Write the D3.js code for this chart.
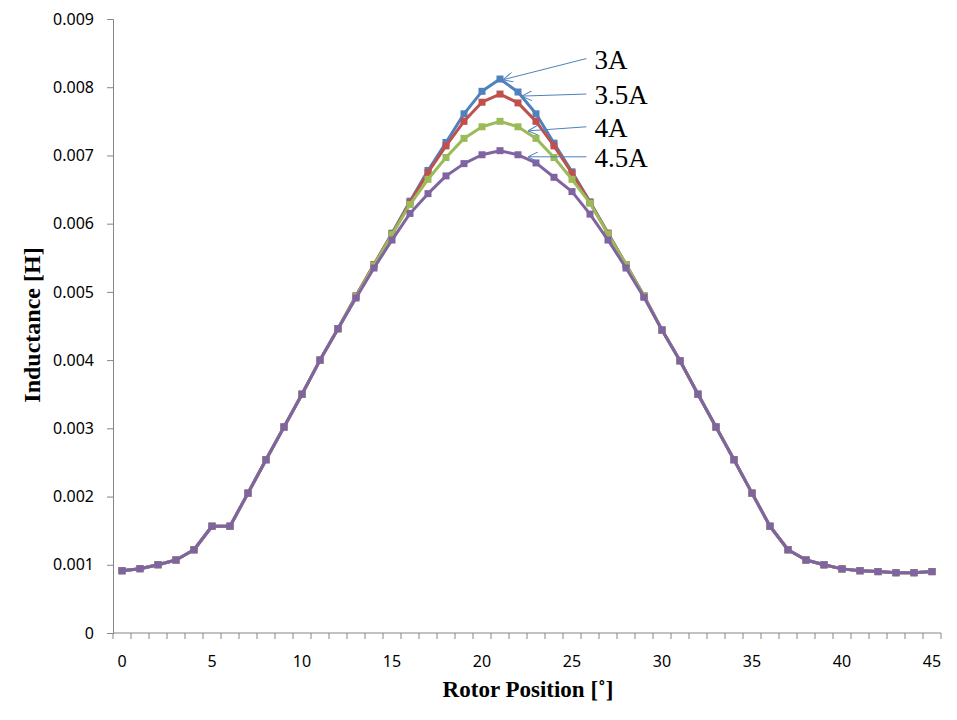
<!DOCTYPE html>
<html>
<head>
<meta charset="utf-8">
<script src="https://cdn.jsdelivr.net/npm/d3@7"></script>
<style>
  html, body { margin: 0; padding: 0; background: #fff; }
  svg { display: block; }
</style>
</head>
<body>
<svg id="chart" width="957" height="720"></svg>
<script>
// ---------- DATA ----------
const positions = d3.range(0, 46); // rotor position, degrees
const seriesNames = ["3A", "3.5A", "4A", "4.5A"];
const yTicks = [0, 0.001, 0.002, 0.003, 0.004, 0.005, 0.006, 0.007, 0.008, 0.009];
const xTickLabels = [0, 5, 10, 15, 20, 25, 30, 35, 40, 45];

const L_3A = [0.000913,0.000943,0.001001,0.00107,0.00122,0.001565,0.001565,0.00205,0.00254,0.00302,
  0.0035,0.004,0.00446,0.00494,0.0054,0.00586,0.00633,0.00678,0.00719,0.00761,
  0.00794,0.00812,0.00793,0.00761,0.00718,0.00676,0.00632,0.00586,0.0054,0.00494,
  0.00444,0.00399,0.0035,0.00302,0.00254,0.00205,0.001565,0.00122,0.00107,0.001,
  0.00094,0.000913,0.0009,0.000884,0.000884,0.0009];
const L_35A = [0.000913,0.000943,0.001001,0.00107,0.00122,0.001565,0.001565,0.00205,0.00254,0.00302,
  0.0035,0.004,0.00446,0.00494,0.0054,0.00585,0.00631,0.00675,0.00714,0.0075,
  0.00778,0.0079,0.00777,0.0075,0.00714,0.00674,0.00631,0.00586,0.0054,0.00494,
  0.00444,0.00399,0.0035,0.00302,0.00254,0.00205,0.001565,0.00122,0.00107,0.001,
  0.00094,0.000913,0.0009,0.000884,0.000884,0.0009];
const L_4A = [0.000913,0.000943,0.001001,0.00107,0.00122,0.001565,0.001565,0.00205,0.00254,0.00302,
  0.0035,0.004,0.00446,0.00493,0.00539,0.00584,0.00628,0.00665,0.00697,0.00725,
  0.00742,0.0075,0.00742,0.00725,0.00697,0.00665,0.0063,0.00585,0.0054,0.00494,
  0.00444,0.00399,0.0035,0.00302,0.00254,0.00205,0.001565,0.00122,0.00107,0.001,
  0.00094,0.000913,0.0009,0.000884,0.000884,0.0009];
const L_45A = [0.000913,0.000943,0.001001,0.00107,0.00122,0.001565,0.001565,0.00205,0.00254,0.00302,
  0.0035,0.004,0.00446,0.00491,0.00535,0.00576,0.00615,0.00644,0.0067,0.00688,
  0.00701,0.00707,0.00701,0.00689,0.00668,0.00647,0.00614,0.00576,0.00535,0.00492,
  0.00444,0.00399,0.0035,0.00302,0.00254,0.00205,0.001565,0.00122,0.00107,0.001,
  0.00094,0.000913,0.0009,0.000884,0.000884,0.0009];

// ---------- LAYOUT / STYLE ----------
const colors = ["#4F81BD", "#C0504D", "#9BBB59", "#8064A2"];
const seriesValues = [L_3A, L_35A, L_4A, L_45A];
// callout: label anchor (category index, value) and arrow target (category index, value)
const callouts = [
  { label: 0, lx: 25.8, ly: 0.00842, tx: 21.17, ty: 0.00811 },
  { label: 1, lx: 25.8, ly: 0.00790, tx: 22.22, ty: 0.00787 },
  { label: 2, lx: 25.8, ly: 0.00742, tx: 22.56, ty: 0.00736 },
  { label: 3, lx: 25.8, ly: 0.00698, tx: 22.56, ty: 0.00698 }
];

const svg = d3.select("#chart");
const mLeft = 113, mRight = 941, mTop = 19, mBottom = 633;

const x = d3.scaleBand().domain(positions).range([mLeft, mRight]).padding(0);
const y = d3.scaleLinear().domain([0, 0.009]).range([mBottom, mTop]);
const cx = d => x(d) + x.bandwidth() / 2;
const cxf = v => mLeft + (v + 0.5) * x.bandwidth();
const axisColor = "#868686";
const tickFont = "'Noto Sans', 'Open Sans', sans-serif";
const serif = "'Liberation Serif', 'Times New Roman', serif";

// Y axis
const yAxis = d3.axisLeft(y).tickValues(yTicks).tickSize(6).tickPadding(13)
  .tickFormat(d => d === 0 ? "0" : d3.format(".3f")(d));
const gy = svg.append("g").attr("transform", `translate(${mLeft},0)`).call(yAxis);
gy.select(".domain").attr("stroke", axisColor).attr("stroke-width", 1);
gy.selectAll(".tick line").attr("stroke", axisColor);
gy.selectAll(".tick text").attr("fill", "#000").style("font-family", tickFont).style("font-size", "16px");

// X axis: tick marks at category boundaries, labels every 5
const gx = svg.append("g").attr("transform", `translate(0,${mBottom})`);
gx.append("line").attr("x1", mLeft).attr("x2", mRight).attr("y1", 0).attr("y2", 0)
  .attr("stroke", axisColor);
const boundaries = positions.map(d => x(d)).concat([mRight]);
gx.selectAll("line.tk").data(boundaries).join("line").attr("class", "tk")
  .attr("x1", d => d).attr("x2", d => d).attr("y1", 0).attr("y2", 6).attr("stroke", axisColor);
gx.selectAll("text").data(xTickLabels).join("text")
  .attr("x", d => cx(d)).attr("y", 34).attr("text-anchor", "middle")
  .style("font-family", tickFont).style("font-size", "16px").attr("fill", "#000").text(d => d);

// Axis titles
svg.append("text").attr("x", 528).attr("y", 697).attr("text-anchor", "middle")
  .style("font-family", serif).style("font-weight", "bold")
  .style("font-size", "23px").text("Rotor Position [˚]");
svg.append("text").attr("transform", "translate(40,325) rotate(-90)").attr("text-anchor", "middle")
  .style("font-family", serif).style("font-weight", "bold")
  .style("font-size", "24px").text("Inductance [H]");

// Series
const line = d3.line().x((d, i) => cx(positions[i])).y(d => y(d));
seriesValues.forEach((vals, si) => {
  const g = svg.append("g");
  g.append("path").datum(vals).attr("d", line).attr("fill", "none")
    .attr("stroke", colors[si]).attr("stroke-width", 3).attr("stroke-linejoin", "round");
  g.selectAll("rect").data(vals).join("rect")
    .attr("x", (d, i) => cx(positions[i]) - 3.5).attr("y", d => y(d) - 3.5)
    .attr("width", 7).attr("height", 7).attr("fill", colors[si]);
});

// Callouts
svg.append("defs").append("marker").attr("id", "arr").attr("viewBox", "0 0 10 10")
  .attr("refX", 10).attr("refY", 5).attr("markerWidth", 10).attr("markerHeight", 10)
  .attr("markerUnits", "userSpaceOnUse").attr("orient", "auto")
  .append("path").attr("d", "M0,0 L10,5 L0,10").attr("fill", "none").attr("stroke", "#4F81BD").attr("stroke-width", 1);
callouts.forEach(c => {
  svg.append("line").attr("x1", cxf(c.lx)).attr("y1", y(c.ly)).attr("x2", cxf(c.tx)).attr("y2", y(c.ty))
    .attr("stroke", "#4F81BD").attr("stroke-width", 1).attr("marker-end", "url(#arr)");
  svg.append("text").attr("x", cxf(c.lx) + 8).attr("y", y(c.ly) + 10)
    .style("font-family", serif).style("font-size", "27px")
    .attr("fill", "#000").text(seriesNames[c.label]);
});
</script>
</body>
</html>
